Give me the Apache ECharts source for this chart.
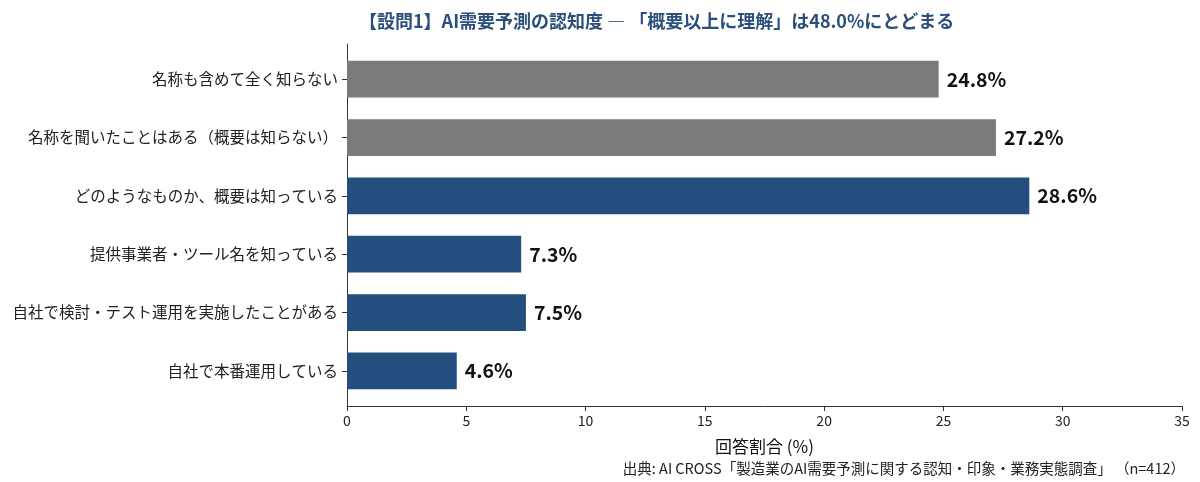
<!DOCTYPE html>
<html>
<head>
<meta charset="utf-8">
<script src="https://cdn.jsdelivr.net/npm/echarts@6/dist/echarts.min.js"></script>
<style>
  html, body { margin: 0; padding: 0; background: #fff; }
  #main { width: 1200px; height: 482px; }
</style>
</head>
<body>
<div id="main"></div>
<script>
// survey answers, top to bottom
var categories = [
  '名称も含めて全く知らない',
  '名称を聞いたことはある（概要は知らない）',
  'どのようなものか、概要は知っている',
  '提供事業者・ツール名を知っている',
  '自社で検討・テスト運用を実施したことがある',
  '自社で本番運用している'
];
var shares = [24.8, 27.2, 28.6, 7.3, 7.5, 4.6];
// first two = no real understanding (gray), rest = 概要以上 (blue)
var understood = [false, false, true, true, true, true];
var xTicks = [0, 5, 10, 15, 20, 25, 30, 35];

var GRAY = '#7b7a7c';
var BLUE = '#234e7d';
var FONT = '"Noto Sans CJK JP", "Noto Sans", sans-serif';

var myChart = echarts.init(document.getElementById('main'));

var option = {
  animation: false,
  textStyle: { fontFamily: FONT },
  title: [{
    text: '【設問1】AI需要予測の認知度 ― 「概要以上に理解」は48.0%にとどまる',
    left: 354,
    top: 7,
    textStyle: { color: '#2b4f7b', fontSize: 18, fontWeight: 'bold', fontFamily: FONT }
  }, {
    text: '出典: AI CROSS「製造業のAI需要予測に関する認知・印象・業務実態調査」 （n=412）',
    right: 10,
    top: 456,
    textStyle: { color: '#222', fontSize: 14.5, fontWeight: 'normal', fontFamily: FONT }
  }],
  // grid 0 holds the bars, grid 1 the axis frame (matplotlib-style padding)
  grid: [
    { left: 347, right: 18, top: 50, bottom: 82 },
    { left: 347, right: 18, top: 44, bottom: 76 }
  ],
  xAxis: [{
    type: 'value',
    gridIndex: 0,
    min: xTicks[0],
    max: xTicks[xTicks.length - 1],
    show: false
  }, {
    type: 'value',
    gridIndex: 1,
    min: xTicks[0],
    max: xTicks[xTicks.length - 1],
    interval: 5,
    name: '回答割合 (%)',
    nameLocation: 'middle',
    nameGap: 32,
    nameTextStyle: { color: '#111', fontSize: 17 },
    axisLine: { show: true, lineStyle: { color: '#333', width: 1 } },
    axisTick: { show: true, length: 5, lineStyle: { color: '#333' } },
    axisLabel: { color: '#222', fontSize: 14, margin: 8 },
    splitLine: { show: false }
  }],
  yAxis: [{
    type: 'category',
    gridIndex: 0,
    inverse: true,
    data: categories,
    axisLine: { show: false },
    axisTick: { show: true, alignWithLabel: true, length: 5, lineStyle: { color: '#333' } },
    axisLabel: { color: '#222', fontSize: 15.5, margin: 9 }
  }, {
    type: 'value',
    gridIndex: 1,
    axisLine: { show: true, lineStyle: { color: '#333', width: 1 } },
    axisTick: { show: false },
    axisLabel: { show: false },
    splitLine: { show: false }
  }],
  series: [{
    type: 'bar',
    xAxisIndex: 0,
    yAxisIndex: 0,
    barCategoryGap: '37%',
    data: shares.map(function (v, i) {
      return { value: v, itemStyle: { color: understood[i] ? BLUE : GRAY } };
    }),
    label: {
      show: true,
      position: 'right',
      distance: 8,
      formatter: function (p) { return p.value.toFixed(1) + '%'; },
      color: '#111',
      fontSize: 19.5,
      fontWeight: 'bold'
    }
  }]
};

myChart.setOption(option);
</script>
</body>
</html>
